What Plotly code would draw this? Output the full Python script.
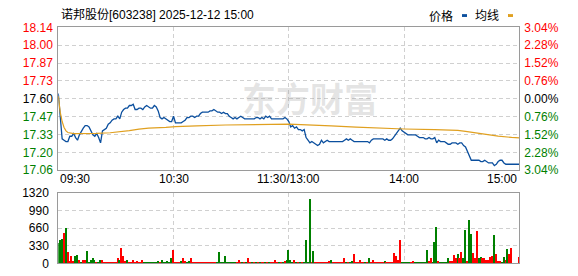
import plotly.graph_objects as go

# ---------------- data ----------------
title_text = "诺邦股份[603238] 2025-12-12 15:00"
prev_close = 17.60
price_tick_labels = ["18.14", "18.00", "17.87", "17.73", "17.60", "17.47", "17.33", "17.20", "17.06"]
pct_tick_labels = ["3.04%", "2.28%", "1.52%", "0.76%", "0.00%", "0.76%", "1.52%", "2.28%", "3.04%"]
pct_levels = [3.04, 2.28, 1.52, 0.76, 0.0, -0.76, -1.52, -2.28, -3.04]
time_labels = ["09:30", "10:30", "11:30/13:00", "14:00", "15:00"]
time_label_idx = [0, 60, 120, 180, 240]
vol_tick_vals = [0, 330, 660, 990, 1320]

price = [
    17.64, 17.45, 17.30, 17.29, 17.28, 17.28, 17.32, 17.32, 17.34, 17.31,
    17.29, 17.33, 17.36, 17.38, 17.40, 17.40, 17.39, 17.36, 17.33, 17.32,
    17.34, 17.31, 17.27, 17.36, 17.37, 17.38, 17.41, 17.42, 17.44, 17.45,
    17.45, 17.47, 17.45, 17.50, 17.52, 17.53, 17.53, 17.55, 17.55, 17.56,
    17.52, 17.52, 17.53, 17.53, 17.52, 17.54, 17.55, 17.54, 17.53, 17.53,
    17.55, 17.54, 17.51, 17.46, 17.45, 17.46, 17.45, 17.44, 17.43, 17.43,
    17.47, 17.42, 17.42, 17.42, 17.42, 17.43, 17.44, 17.46, 17.46, 17.47,
    17.47, 17.46, 17.47, 17.47, 17.49, 17.50, 17.50, 17.50, 17.50, 17.51,
    17.51, 17.52, 17.51, 17.50, 17.50, 17.49, 17.50, 17.49, 17.49, 17.47,
    17.46, 17.45, 17.46, 17.45, 17.46, 17.47, 17.46, 17.45, 17.45, 17.45,
    17.45, 17.45, 17.45, 17.46, 17.46, 17.45, 17.46, 17.45, 17.47, 17.46,
    17.47, 17.45, 17.45, 17.45, 17.45, 17.45, 17.45, 17.45, 17.46, 17.45,
    17.43, 17.39, 17.40, 17.38, 17.39, 17.37, 17.37, 17.36, 17.37, 17.31,
    17.29, 17.27, 17.28, 17.27, 17.26, 17.25, 17.26, 17.29, 17.27, 17.28,
    17.29, 17.28, 17.28, 17.28, 17.28, 17.28, 17.28, 17.28, 17.28, 17.29,
    17.30, 17.29, 17.30, 17.29, 17.28, 17.28, 17.28, 17.28, 17.28, 17.28,
    17.28, 17.28, 17.27, 17.29, 17.30, 17.30, 17.30, 17.30, 17.30, 17.30,
    17.29, 17.30, 17.29, 17.29, 17.30, 17.32, 17.34, 17.36, 17.38, 17.36,
    17.35, 17.34, 17.33, 17.33, 17.33, 17.33, 17.33, 17.32, 17.31, 17.31,
    17.31, 17.30, 17.30, 17.31, 17.30, 17.30, 17.31, 17.27, 17.29, 17.28,
    17.28, 17.28, 17.27, 17.26, 17.26, 17.27, 17.27, 17.27, 17.26, 17.27,
    17.27, 17.25, 17.24, 17.21, 17.18, 17.14, 17.14, 17.14, 17.14, 17.14,
    17.13, 17.13, 17.14, 17.13, 17.12, 17.12, 17.12, 17.10, 17.11, 17.13,
    17.14, 17.14, 17.12, 17.11, 17.11, 17.11, 17.11, 17.11, 17.11, 17.11,
    17.11,
]

avg_idx = [0, 1, 2, 3, 4, 5, 8, 16, 20, 27, 32, 37, 42, 47, 56, 61, 72, 87, 120,
           130, 142, 155, 166, 180, 196, 208, 212, 217, 222, 229, 236, 240]
avg_val = [17.62, 17.50, 17.43, 17.385, 17.36, 17.348, 17.340, 17.338, 17.342, 17.346,
           17.352, 17.362, 17.373, 17.381, 17.386, 17.392, 17.398, 17.404, 17.410,
           17.406, 17.397, 17.388, 17.381, 17.374, 17.370, 17.364, 17.356, 17.345,
           17.333, 17.321, 17.311, 17.308]

volume = [
    380, 430, 465, 565, 665, 210, 50, 145, 40, 130,
    160, 60, 25, 70, 70, 225, 30, 60, 105, 70,
    30, 25, 60, 70, 20, 20, 20, 20, 20, 20,
    20, 105, 70, 285, 130, 45, 70, 20, 20, 70,
    20, 50, 20, 30, 55, 20, 20, 20, 15, 20,
    20, 20, 35, 15, 70, 15, 15, 35, 15, 90,
    250, 20, 20, 15, 50, 90, 45, 20, 35, 90,
    18, 18, 18, 18, 18, 18, 18, 18, 18, 18,
    18, 18, 18, 15, 215, 15, 15, 130, 15, 15,
    15, 15, 15, 15, 55, 15, 15, 15, 15, 105,
    15, 15, 15, 15, 15, 15, 15, 15, 15, 15,
    15, 15, 15, 70, 15, 15, 20, 15, 35, 70,
    250, 70, 15, 70, 15, 15, 15, 15, 15, 445,
    15, 1215, 20, 225, 30, 15, 15, 15, 15, 15,
    15, 35, 70, 15, 15, 15, 15, 15, 15, 105,
    15, 15, 15, 35, 165, 20, 20, 70, 15, 15,
    15, 15, 105, 15, 70, 15, 15, 15, 15, 15,
    35, 15, 15, 15, 15, 195, 145, 60, 445, 15,
    15, 15, 15, 15, 15, 35, 15, 15, 15, 15,
    15, 15, 250, 50, 105, 15, 395, 680, 35, 15,
    15, 15, 15, 90, 35, 50, 150, 90, 180, 90,
    215, 90, 625, 50, 820, 555, 195, 90, 605, 90,
    125, 90, 90, 70, 70, 125, 145, 535, 180, 35,
    35, 15, 125, 55, 270, 180, 285, 0, 0, 0,
    125,
]
# r = up minute (red), g = down minute (green); one string per 10 minutes
vol_dir_rows = [
    "gggrgrrrrg", "grgrrggggg", "rggrrrrrrr", "rrgrrrgrrr", "rrrrrggggg",
    "gggrgggggg", "rrrrgrrggr", "rrrrrrrrrr", "rrrggggggg", "gggrrrgrgr",
    "rgrgrgrrgr", "grrrrgrgrg", "gggrgrgrgg", "ggrgrrrrrr", "rrgrrrrrrr",
    "grggrrrrrr", "grgrrrrrrr", "grrrrrrrrg", "ggggrrgggg", "gggrrgggrg",
    "ggggrrrrgr", "rggrggrrrg", "grrrrrrgrr", "rggrgrrrrr", "r",
]

# ---------------- styling ----------------
FONT = "Arial, 'Liberation Sans', 'Noto Sans CJK SC', sans-serif"
RED, GREEN, BLACK = "#ff0000", "#008000", "#000000"
FRAME = "#9a9a9a"
GRID = "#d0d0d0"
DASH = "4px,3px"
W, H = 578, 276

step = prev_close * 0.0076
levels = [prev_close + step * (4 - k) for k in range(9)]
lo, hi = levels[-1], levels[0]


def tick_color(p):
    return RED if p > 0 else (GREEN if p < 0 else BLACK)


price_text = [f'<span style="color:{tick_color(p)}">{t}</span>' for t, p in zip(price_tick_labels, pct_levels)]
pct_text = [f'<span style="color:{tick_color(p)}">{t}</span>' for t, p in zip(pct_tick_labels, pct_levels)]
vol_dir = "".join(vol_dir_rows)
bar_colors = [RED if c == "r" else GREEN for c in vol_dir]

x = list(range(len(price)))

fig = go.Figure()
fig.add_trace(go.Bar(x=x, y=volume, marker_color=bar_colors, marker_line_width=0, width=0.55,
                     xaxis="x2", yaxis="y3", hoverinfo="skip"))
fig.add_trace(go.Scatter(x=avg_idx, y=avg_val, mode="lines", line=dict(color="#e0a020", width=1.2),
                         xaxis="x", yaxis="y2", hoverinfo="skip"))
fig.add_trace(go.Scatter(x=x, y=price, mode="lines", line=dict(color="#0b4f9e", width=1.3),
                         xaxis="x", yaxis="y", hoverinfo="skip"))

xdom = [58.3 / W, 519.3 / W]
main_dom = [1 - 172 / H, 1 - 21.5 / H]
vol_dom = [1 - 270 / H, 1 - 196 / H]

axis_common = dict(showline=True, linecolor=FRAME, linewidth=1, mirror=True, ticks="",
                   zeroline=False, showgrid=True, gridcolor=GRID, griddash=DASH, gridwidth=1)

annotations = []
anchors = ["left", "center", "center", "center", "right"]
for lab, idx, anc in zip(time_labels, time_label_idx, anchors):
    annotations.append(dict(x=idx, y=1 - 181.5 / H, xref="x", yref="paper", text=lab,
                            showarrow=False, xanchor=anc, yanchor="middle",
                            font=dict(size=12, color=BLACK, family=FONT)))
annotations.append(dict(x=59 / W, y=1 - 8.5 / H, xref="paper", yref="paper", text=title_text,
                        showarrow=False, xanchor="left", yanchor="middle",
                        font=dict(size=12, color=BLACK, family=FONT)))
annotations.append(dict(x=455 / W, y=1 - 9.5 / H, xref="paper", yref="paper", text="价格",
                        showarrow=False, xanchor="right", yanchor="middle",
                        font=dict(size=12, color=BLACK, family=FONT)))
annotations.append(dict(x=501 / W, y=1 - 9.5 / H, xref="paper", yref="paper", text="均线",
                        showarrow=False, xanchor="right", yanchor="middle",
                        font=dict(size=12, color=BLACK, family=FONT)))
annotations.append(dict(x=310 / W, y=1 - 95 / H, xref="paper", yref="paper", text="<b>东方财富</b>",
                        showarrow=False, xanchor="center", yanchor="middle",
                        font=dict(size=34, color="rgba(160,160,160,0.28)",
                                  family="'Noto Sans CJK SC', sans-serif")))

shapes = [
    dict(type="rect", xref="paper", yref="paper", x0=462 / W, x1=467 / W,
         y0=1 - 10.5 / H, y1=1 - 7.5 / H, fillcolor="#0b4f9e", line=dict(width=0)),
    dict(type="rect", xref="paper", yref="paper", x0=508 / W, x1=513 / W,
         y0=1 - 10.5 / H, y1=1 - 7.5 / H, fillcolor="#e0a020", line=dict(width=0)),
]

fig.update_layout(
    width=W, height=H, margin=dict(l=0, r=0, t=0, b=0),
    paper_bgcolor="white", plot_bgcolor="white", showlegend=False,
    font=dict(family=FONT, size=12, color=BLACK),
    bargap=0,
    xaxis=dict(domain=xdom, range=[0, 240], anchor="y", tickvals=[60, 120, 180],
               showticklabels=False, **axis_common),
    yaxis=dict(domain=main_dom, range=[lo, hi], anchor="x", tickvals=levels, ticktext=price_text,
               ticklabelstandoff=2, **axis_common),
    yaxis2=dict(overlaying="y", side="right", anchor="x", range=[lo, hi], tickvals=levels,
                ticktext=pct_text, showgrid=False, zeroline=False, ticks="", showline=False,
                ticklabelstandoff=4),
    xaxis2=dict(domain=xdom, range=[0, 240], anchor="y3", matches="x", tickvals=[60, 120, 180],
                showticklabels=False, **axis_common),
    yaxis3=dict(domain=vol_dom, range=[0, 1320], anchor="x2", tickvals=vol_tick_vals,
                ticktext=[str(v) for v in vol_tick_vals], ticklabelstandoff=6,
                tickfont=dict(color=BLACK), **axis_common),
    annotations=annotations,
    shapes=shapes,
)

fig.write_html("out.html")
